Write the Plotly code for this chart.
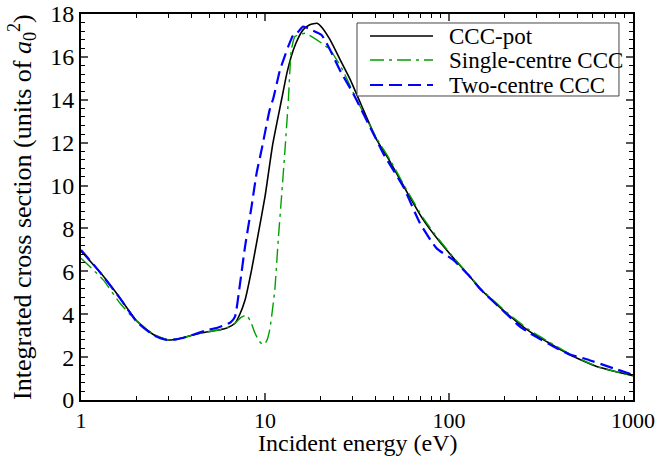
import plotly.graph_objects as go

# ---- data ----
x_pot = [1, 1.3, 1.6, 2.0, 2.5, 3.0, 3.5, 4.0, 4.8, 5.5, 6.2, 6.87, 7.3, 7.79, 8.45, 9.2, 10, 11,
         12.3, 13.2, 14.25, 15.2, 16.1, 17.5, 19.2, 20.5, 22.6, 25.5, 29.1, 33, 40.5, 47.8, 58.9,
         72.5, 87.5, 108, 130, 147, 206, 275, 340, 455, 635, 800, 1000]
y_pot = [6.95, 5.85, 4.85, 3.7, 3.03, 2.8, 2.88, 3.02, 3.17, 3.25, 3.36, 3.58, 4.0, 4.66, 6.06,
         7.77, 9.48, 11.9, 14.0, 15.3, 16.32, 16.9, 17.26, 17.5, 17.57, 17.35, 16.79, 15.9, 14.93,
         13.85, 12.13, 11.12, 9.72, 8.40, 7.46, 6.53, 5.75, 5.2, 4.04, 3.19, 2.72, 2.10, 1.56,
         1.33, 1.13]

x_sc = [1, 1.32, 1.63, 2.0, 2.5, 3.0, 3.5, 4.0, 4.8, 5.5, 6.2, 6.87, 7.4, 7.95, 8.4, 8.83, 9.3,
        9.79, 10.2, 10.6, 11.3, 11.8, 12.3, 12.8, 13.4, 13.9, 14.55, 15.5, 16.5, 18.3, 20.3, 22.6,
        26, 31.5, 40.5, 47.8, 58.9, 72.5, 87.5, 108, 130, 147, 206, 275, 340, 455, 635, 800, 1000]
y_sc = [6.61, 5.6, 4.51, 3.68, 3.05, 2.8, 2.88, 3.02, 3.17, 3.25, 3.36, 3.58, 3.85, 3.96, 3.6,
        3.11, 2.75, 2.57, 2.75, 3.26, 5.13, 7.46, 9.48, 11.5, 14.0, 16.32, 16.95, 17.05, 17.1,
        16.9, 16.64, 16.32, 15.5, 14.0, 12.2, 11.2, 9.8, 8.48, 7.52, 6.56, 5.78, 5.24, 4.09,
        3.25, 2.77, 2.14, 1.57, 1.33, 1.13]

x_tc = [1, 1.27, 1.63, 2.01, 2.47, 2.92, 3.3, 3.76, 4.4, 4.82, 5.46, 6.0, 6.5, 6.87, 7.32, 7.79,
        8.45, 9.0, 9.6, 10.6, 11.1, 12.06, 12.6, 13.4, 14.25, 14.9, 16.1, 17.9, 20.3, 22.6, 25.5,
        30.1, 38.7, 43.9, 56.4, 69.6, 85.7, 105.5, 130, 147, 206, 243, 275, 385, 455, 560, 782,
        1000]
y_tc = [7.0, 5.95, 4.74, 3.65, 3.03, 2.80, 2.83, 2.95, 3.14, 3.26, 3.36, 3.48, 3.62, 3.89, 5.44,
        7.15, 9.02, 10.57, 11.7, 13.53, 14.07, 15.39, 15.86, 16.5, 17.02, 17.1, 17.41, 17.26,
        17.02, 16.32, 15.39, 14.3, 12.44, 11.5, 9.95, 8.24, 7.07, 6.53, 5.75, 5.2, 4.0, 3.42,
        3.12, 2.41, 2.12, 1.9, 1.48, 1.18]

x_tickvals = [1, 10, 100, 1000]
x_ticktext = ["1", "10", "100", "1000"]
y_tickvals = [0, 2, 4, 6, 8, 10, 12, 14, 16, 18]

names = ["CCC-pot", "Single-centre CCC", "Two-centre CCC"]
colors = ["black", "rgb(0,160,0)", "rgb(0,0,255)"]
dashes = ["solid", "14px,5px,3px,5px", "13px,6px"]
widths = [1.6, 1.4, 2.2]

x_title = "Incident energy (eV)"
y_title = "Integrated cross section (units of <i>a</i><sub>0</sub><sup>2</sup>)"

FONT = "Liberation Serif"

fig = go.Figure()
series = [(x_pot, y_pot), (x_sc, y_sc), (x_tc, y_tc)]
for (xs, ys), nm, c, d, w in zip(series, names, colors, dashes, widths):
    fig.add_trace(go.Scatter(x=xs, y=ys, mode="lines", name=nm, showlegend=False,
                             line=dict(color=c, width=w, dash=d, shape="spline", smoothing=0.5)))
# invisible carrier trace so that the mirrored (top/right) tick axes are drawn
fig.add_trace(go.Scatter(x=x_tickvals, y=[None] * len(x_tickvals), xaxis="x2", yaxis="y2",
                         mode="lines", showlegend=False, hoverinfo="skip"))

tick_common = dict(ticks="inside", ticklen=7, tickwidth=1.5, tickcolor="#555",
                   showgrid=False, zeroline=False, automargin=False)
line_common = dict(showline=True, linewidth=2, linecolor="black")
minor_x = dict(ticks="inside", ticklen=4, tickwidth=1, tickcolor="black", dtick="D1", showgrid=False)
minor_y = dict(ticks="inside", ticklen=4, tickwidth=1, tickcolor="black", dtick=0.4, showgrid=False)

fig.update_layout(
    xaxis=dict(type="log", range=[0, 3], tickvals=x_tickvals, ticktext=x_ticktext,
               minor=minor_x, mirror="allticks",
               tickfont=dict(family=FONT, size=22, color="black"), ticklabelstandoff=0,
               **tick_common, **line_common),
    xaxis2=dict(type="log", range=[0, 3], tickvals=x_tickvals, showticklabels=False,
                overlaying="x", side="top", anchor="y", minor=minor_x,
                **tick_common, **line_common),
    yaxis=dict(range=[0, 18], tickvals=y_tickvals, minor=minor_y, mirror="allticks",
               tickfont=dict(family=FONT, size=24, color="black"),
               **tick_common, **line_common),
    yaxis2=dict(range=[0, 18], tickvals=y_tickvals, showticklabels=False,
                overlaying="y", side="right", anchor="x", minor=minor_y,
                **tick_common, **line_common),
    width=659, height=462,
    margin=dict(l=81, r=26, t=14, b=62, autoexpand=False),
    plot_bgcolor="white", paper_bgcolor="white",
    font=dict(family=FONT, size=22, color="black"),
    showlegend=False,
)

# ---- axis titles ----
fig.add_annotation(xref="paper", yref="paper", x=0.5, y=-0.112, text=x_title, showarrow=False,
                   xanchor="center", yanchor="middle",
                   font=dict(family=FONT, size=24, color="black"))
fig.add_annotation(xref="paper", yref="paper", x=-0.107, y=0.5, text=y_title, showarrow=False,
                   textangle=-90, xanchor="center", yanchor="middle",
                   font=dict(family=FONT, size=26, color="black"))

# ---- legend drawn as a boxed key (paper coordinates) ----
box_x0, box_x1, box_y0, box_y1 = 0.500, 0.9746, 0.7876, 0.9767
fig.add_shape(type="rect", xref="paper", yref="paper", x0=box_x0, x1=box_x1, y0=box_y0, y1=box_y1,
              line=dict(color="#444", width=1), fillcolor="white", layer="above")
row_y = [0.943, 0.8808, 0.816]
for ry, nm, c, d, w in zip(row_y, names, colors, dashes, widths):
    fig.add_shape(type="line", xref="paper", yref="paper", x0=0.5236, x1=0.6377, y0=ry, y1=ry,
                  line=dict(color=c, width=w, dash=d), layer="above")
    fig.add_annotation(xref="paper", yref="paper", x=0.663, y=ry, text=nm, showarrow=False,
                       xanchor="left", yanchor="middle",
                       font=dict(family=FONT, size=23, color="black"))

fig.write_html("out.html")
